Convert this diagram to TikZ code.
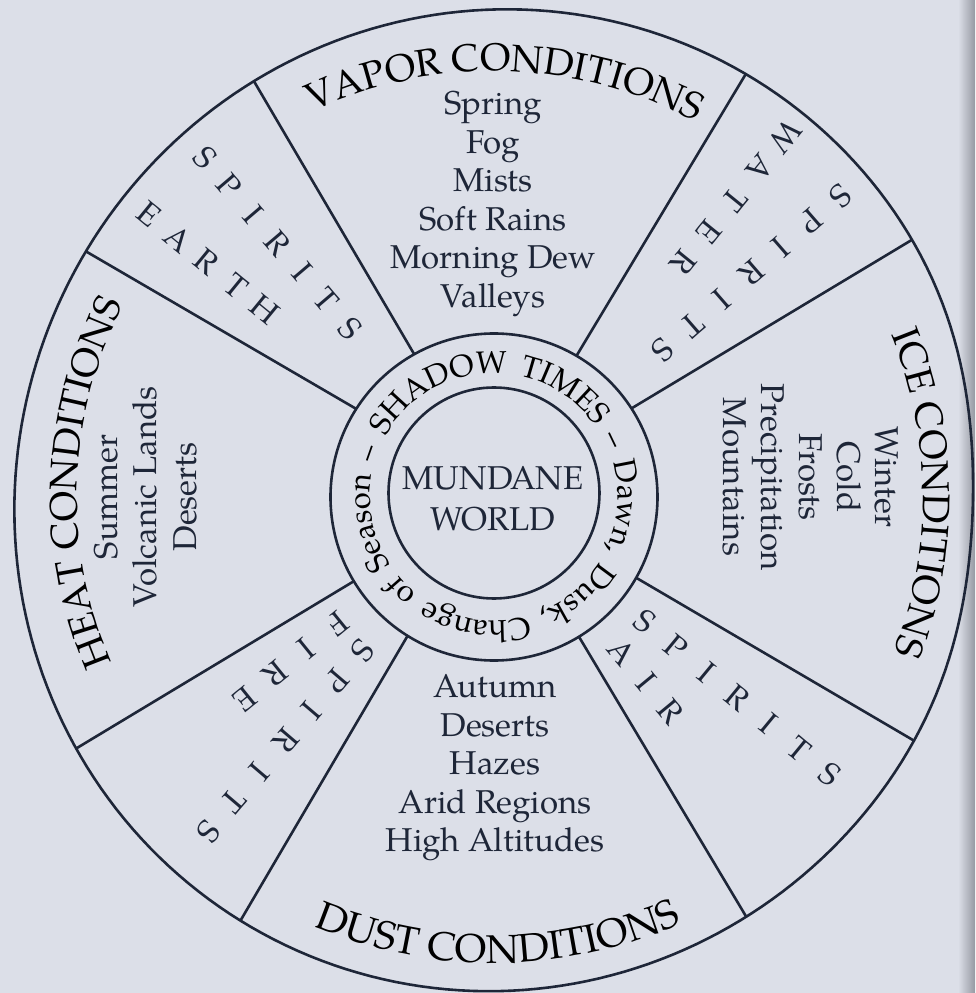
\documentclass[tikz,border=0pt]{standalone}
\usepackage{fontspec}
\setmainfont{TeX Gyre Pagella}
\usetikzlibrary{decorations.text,calc}
\definecolor{paper}{RGB}{220,223,232}
\definecolor{ink}{RGB}{30,38,56}
\definecolor{edgegray}{RGB}{150,153,162}
\newcommand{\titlefont}{\fontsize{38.5}{38.5}\selectfont}
\newcommand{\dustfont}{\fontsize{40}{40}\selectfont}
\newcommand{\itemfont}{\fontsize{33}{33}\selectfont}
\newcommand{\ringfont}{\fontsize{31}{31}\selectfont}
\newcommand{\spiritfont}{\fontsize{32}{32}\selectfont}
\newcommand{\worldfont}{\fontsize{33}{33}\selectfont}
\newcommand{\rimr}[1]{(487.2-3.68*cos(2*#1)+4.62*sin(2*#1)-8.5*max(cos(#1),0)^16)}
\begin{document}
\begin{tikzpicture}[x=1pt, y=1pt, color=ink,
  wheel/.style={draw=ink, line width=2.6pt},
  itm/.style={font=\itemfont, anchor=base, inner sep=0pt},
  ltr/.style={font=\spiritfont, inner sep=0pt},
  imgcoords/.style={shift={(-494,497)}, yscale=-1}]
\useasboundingbox (-494,-496) rectangle (481,497);
\fill[paper] (-494,-496) rectangle (481,497);
% page edge at the right
\shade[left color=paper, right color=edgegray] (464,-496) rectangle (481,497);

% outer rim
\draw[wheel] plot[domain=0:360, samples=241, variable=\t]
  ({3.96+\rimr{\t}*cos(\t)}, {-3.26+\rimr{\t}*sin(\t)}) -- cycle;

% spoke end points
\begin{scope}[imgcoords]
  \coordinate (o1) at (87,252);
  \coordinate (o2) at (255,83);
  \coordinate (o3) at (747,72);
  \coordinate (o4) at (915,238);
  \coordinate (o5) at (918,743);
  \coordinate (o6) at (747,918);
  \coordinate (o7) at (242,918);
  \coordinate (o8) at (77,748);
\end{scope}
\coordinate (i1) at (147.4:163.5);
\coordinate (i2) at (119.2:163.5);
\coordinate (i3) at (59.7:163.5);
\coordinate (i4) at (32.8:163.5);
\coordinate (i5) at (-29.6:163.5);
\coordinate (i6) at (-58.7:163.5);
\coordinate (i7) at (-121.9:163.5);
\coordinate (i8) at (-149:163.5);

\begin{scope}
  \clip plot[domain=0:360, samples=241, variable=\t]
    ({3.96+\rimr{\t}*cos(\t)}, {-3.26+\rimr{\t}*sin(\t)}) -- cycle;
  \foreach \k in {1,...,8}
    \draw[wheel] (i\k) -- ($(i\k)!1.12!(o\k)$);
\end{scope}

% ring and centre
\draw[wheel] (0,0) circle[radius=163.5];
\draw[wheel] (0,4) circle[radius=105.5];

\node[font=\worldfont, anchor=base, inner sep=0pt] (mundane) at (-1,7) {MUNDANE};
\node[font=\worldfont, anchor=base, inner sep=0pt] (world) at (-1,-33) {WORLD};

% ring text
\path[decorate, decoration={text along path, text align=fit to path stretching spaces,
  text={|\ringfont|SHADOW TIMES {–} Dawn, Dusk, Change of Season {–}}}]
  (151:124) arc[start angle=151, end angle=-203, radius=124];

% condition titles
\path[decorate, decoration={text along path, text align=center, text={|\titlefont|VAPOR CONDITIONS}}]
  (128.5:426) arc[start angle=128.5, end angle=48.5, radius=426];
\path[decorate, decoration={text along path, text align=center, text={|\titlefont|ICE CONDITIONS}}]
  (40.5:429) arc[start angle=40.5, end angle=-39.5, radius=429];
\path[decorate, decoration={text along path, text align=center, text={|\titlefont|HEAT CONDITIONS}}]
  (218:417) arc[start angle=218, end angle=138, radius=417];
\path[decorate, decoration={text along path, text align=center, text={|\dustfont|DUST CONDITIONS}}]
  (-129.5:466) arc[start angle=-129.5, end angle=-49.5, radius=466];

% condition items
\foreach \t/\y [count=\i] in {Spring/382, Fog/343.5, Mists/305, Soft Rains/266.5, Morning Dew/228, Valleys/189.5}
  \node[itm] (vap\i) at (-1,\y) {\t};
\foreach \t/\y [count=\i] in {Autumn/-200, Deserts/-239, Hazes/-277, Arid Regions/-316, High Altitudes/-354}
  \node[itm] (dust\i) at (1,\y) {\t};
\foreach \t/\x [count=\i] in {Winter/381, Cold/343, Frosts/305, Precipitation/267, Mountains/229}
  \node[itm, rotate=-90] (ice\i) at (\x,20) {\t};
\foreach \t/\x [count=\i] in {Summer/-376, Volcanic Lands/-337, Deserts/-297}
  \node[itm, rotate=90] (heat\i) at (\x,0) {\t};

% spirits
\foreach \L [count=\i from 0] in {S,P,I,R,I,T,S}
  \node[ltr, rotate=-49.6] (earthA\i) at (130.4:{446-37.5*\i}) {\L};
\foreach \L [count=\i from 0] in {E,A,R,T,H}
  \node[ltr, rotate=-39.3] (earthB\i) at (140.7:{446-37.5*\i}) {\L};
\foreach \L [count=\i from 0] in {W,A,T,E,R}
  \node[ltr, rotate=-129] (waterA\i) at (51:{463-40.5*\i}) {\L};
\foreach \L [count=\i from 0] in {S,P,I,R,I,T,S}
  \node[ltr, rotate=-139] (waterB\i) at (41:{459-39.3*\i}) {\L};
\foreach \L [count=\i from 0] in {A,I,R}
  \node[ltr, rotate=-50.5] (airA\i) at (-50.5:{201+38.5*\i}) {\L};
\foreach \L [count=\i from 0] in {S,P,I,R,I,T,S}
  \node[ltr, rotate=-39.5] (airB\i) at (-39.5:{196+40*\i}) {\L};
\foreach \L [count=\i from 0] in {F,I,R,E}
  \node[ltr, rotate=-141] (fireA\i) at (-141:{201+40*\i}) {\L};
\foreach \L [count=\i from 0] in {S,P,I,R,I,T,S}
  \node[ltr, rotate=-130.5] (fireB\i) at (-130.5:{202+39.7*\i}) {\L};
\end{tikzpicture}
\end{document}
